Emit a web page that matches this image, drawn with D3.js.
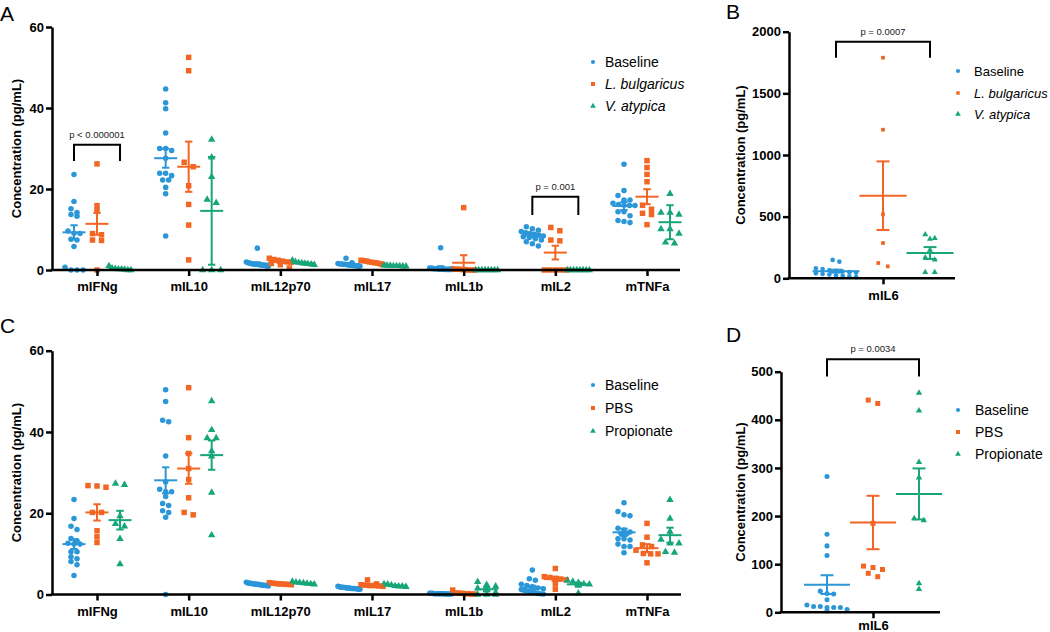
<!DOCTYPE html>
<html>
<head>
<meta charset="utf-8">
<script src="https://cdn.jsdelivr.net/npm/d3@7"></script>
<style>
  body { margin: 0; background: #fff; }
  svg { display: block; font-family: Arial, "Liberation Sans", sans-serif; }
</style>
</head>
<body>
<svg id="chart" width="1050" height="632"></svg>
<script>
// ---- data ----
const cytokines = ["mIFNg", "mIL10", "mIL12p70", "mIL17", "mIL1b", "mIL2", "mTNFa"];
const il6 = ["mIL6"];

const groupsAB = ["Baseline", "L. bulgaricus", "V. atypica"];
const groupsCD = ["Baseline", "PBS", "Propionate"];

// panel A, one list per cytokine
const aBaseline = [
  [23.6, 16.9, 15.1, 14.2, 13.7, 13.3, 9.6, 9.1, 9.0, 7.6, 7.4, 5.8, 0.7, 0, 0, 0],
  [44.7, 41.3, 39.8, 33.8, 30.0, 30.0, 29.5, 27.6, 23.9, 23.9, 23.3, 22.2, 22.2, 20.4, 18.8, 8.4],
  [5.4, 2.0, 1.8, 1.7, 1.6, 1.5, 1.5, 1.4, 1.4, 1.3, 1.3, 1.2, 1.2, 1.1, 1.0, 0.9],
  [2.9, 1.8, 1.6, 1.5, 1.5, 1.4, 1.4, 1.3, 1.3, 1.2, 1.2, 1.1, 1.1, 1.0, 1.0, 0.9],
  [5.5, 0.5, 0.4, 0.4, 0.3, 0.3, 0.3, 0.2, 0.2, 0.2, 0.2, 0.1, 0.1, 0.1, 0.1, 0.1],
  [10.7, 10.2, 9.8, 9.5, 9.2, 9.0, 8.8, 8.6, 8.4, 8.2, 8.0, 7.7, 7.4, 7.0, 6.5, 5.9],
  [26.1, 19.6, 18.4, 17.3, 17.3, 16.5, 16.2, 16.0, 15.9, 15.9, 14.4, 14.4, 13.4, 12.2, 12.0, 11.7]
];
const aBulgaricus = [
  [26.2, 15.9, 14.7, 9.0, 8.7, 7.4, 7.3, 0],
  [52.5, 49.2, 26.6, 25.5, 20.8, 16.2, 11.1, 2.5],
  [2.9, 2.6, 2.4, 2.2, 2.0, 1.9, 1.6, 1.3, 0.5],
  [2.4, 2.3, 2.2, 2.0, 1.9, 1.8, 1.7, 1.5, 1.3],
  [15.4, 0.3, 0.2, 0.2, 0.1, 0.1, 0, 0, 0],
  [10.5, 9.7, 7.4, 7.2, 0, 0, 0, 0, 0],
  [27.0, 25.3, 23.6, 21.8, 16.0, 15.0, 14.0, 13.7, 11.2]
];
const aAtypica = [
  [1.0, 0.4, 0.3, 0.2, 0.2, 0.1, 0, 0],
  [32.2, 27.8, 23.0, 17.4, 16.6, 0, 0, 0],
  [2.4, 2.0, 1.8, 1.7, 1.6, 1.5, 1.4, 1.3],
  [1.2, 1.1, 1.1, 1.0, 1.0, 1.0, 0.9, 0.9],
  [0, 0, 0, 0, 0, 0, 0, 0],
  [0, 0, 0, 0, 0, 0, 0, 0],
  [18.8, 14.2, 14.2, 13.7, 10.1, 10.1, 9.0, 6.8, 6.6]
];
const aBaselineMean = [9.3, 27.6, 1.6, 1.4, 0.6, 8.5, 15.8];
const aBaselineErr = [1.75, 2.35, 0.3, 0.15, 0.35, 0.35, 1.0];
const aBulgaricusMean = [11.4, 25.5, 2.0, 1.9, 1.8, 4.3, 18.1];
const aBulgaricusErr = [2.7, 6.2, 0.25, 0.15, 1.85, 1.7, 1.85];
const aAtypicaMean = [0.3, 14.6, 1.7, 1.0, 0, 0, 11.8];
const aAtypicaErr = [0.15, 13.3, 0.2, 0.05, 0, 0, 4.2];

// panel B
const bBaseline = [[149, 135, 80, 75, 65, 60, 55, 50, 45, 40, 35, 30, 25, 20, 15, 10]];
const bBulgaricus = [[1789, 1205, 519, 286, 124, 97]];
const bAtypica = [[356, 324, 319, 230, 168, 150, 49, 49]];
const bMean = [58, 670, 205];
const bErr = [12, 278, 48];

// panel C
const cBaseline = [
  [23.4, 18.7, 16.8, 16.0, 13.8, 13.2, 12.6, 12.4, 12.4, 10.5, 10.5, 9.3, 8.8, 8.1, 7.3, 4.7],
  [50.4, 47.5, 42.9, 42.5, 34.1, 27.7, 25.9, 25.3, 25.3, 24.1, 22.4, 21.9, 20.6, 20.2, 19.0, 0],
  [3.0, 2.9, 2.8, 2.7, 2.7, 2.6, 2.6, 2.5, 2.5, 2.4, 2.4, 2.3, 2.3, 2.2, 2.2, 2.1],
  [2.0, 1.9, 1.8, 1.8, 1.7, 1.7, 1.6, 1.6, 1.6, 1.5, 1.5, 1.5, 1.4, 1.4, 1.3, 1.3],
  [0.3, 0.3, 0.3, 0.2, 0.2, 0.2, 0.2, 0.2, 0.2, 0.2, 0.2, 0.1, 0.1, 0.1, 0.1, 0.1],
  [6.0, 3.9, 3.5, 2.5, 2.2, 1.9, 1.6, 1.4, 1.2, 1.0, 0.8, 0.6, 0.5, 0.3, 0.2, 0.1],
  [22.6, 20.4, 19.6, 19.4, 16.3, 15.9, 15.4, 15.0, 15.0, 13.7, 13.7, 13.4, 12.4, 11.8, 11.8, 10.3]
];
const cPBS = [
  [26.8, 26.7, 26.4, 20.2, 20.2, 15.7, 14.2, 12.8],
  [50.9, 38.6, 34.7, 31.0, 28.3, 23.8, 20.2, 19.6],
  [2.9, 2.8, 2.7, 2.6, 2.6, 2.5, 2.5, 2.4],
  [3.6, 2.6, 2.4, 2.3, 2.2, 2.2, 2.1, 2.0],
  [1.1, 0.4, 0.3, 0.3, 0.2, 0.2, 0.1, 0.1],
  [6.4, 4.4, 4.2, 4.0, 3.8, 3.6, 2.6, 1.3],
  [17.5, 14.1, 12.2, 11.8, 10.9, 10.1, 10.0, 10.0, 7.8]
];
const cPropionate = [
  [27.3, 27.0, 19.3, 17.4, 16.8, 13.7, 7.5],
  [47.6, 40.5, 38.5, 38.5, 35.3, 34.0, 25.1, 14.6],
  [3.2, 3.0, 2.9, 2.8, 2.7, 2.6, 2.5],
  [2.6, 2.5, 2.3, 2.1, 2.0, 2.0, 1.9],
  [3.1, 2.4, 2.0, 1.5, 1.0, 0.5, 0, 0, 0],
  [3.5, 3.2, 2.9, 2.6, 2.5, 2.2, 0.3],
  [23.3, 18.7, 15.5, 13.5, 12.6, 12.6, 10.5, 10.3]
];
const cBaselineMean = [12.4, 28.1, 2.5, 1.6, 0.2, 1.7, 15.3];
const cBaselineErr = [1.2, 3.2, 0.1, 0.1, 0.02, 0.45, 0.9];
const cPBSMean = [20.2, 31.0, 2.6, 2.4, 0.3, 3.8, 11.4];
const cPBSErr = [2.0, 3.75, 0.1, 0.2, 0.12, 0.5, 1.0];
const cPropionateMean = [18.3, 34.3, 2.8, 2.2, 1.3, 2.5, 14.6];
const cPropionateErr = [2.3, 3.6, 0.1, 0.1, 0.45, 0.4, 1.85];

// panel D
const dBaseline = [[282, 162, 138, 118, 44, 39, 38, 26, 15, 12, 12, 10, 10, 10, 6, 3]];
const dPBS = [[441, 434, 185, 96, 93, 89, 81, 74]];
const dPropionate = [[456, 419, 312, 280, 195, 191, 60, 48]];
const dMean = [57.5, 186.6, 246];
const dErr = [19.5, 55.5, 53];

// significance brackets: category, bracket top / foot (data units), label
const aBrackets = [
  { cat: "mIFNg", top: 30.9, foot: 26.9, label: "p < 0.000001" },
  { cat: "mIL2", top: 18.1, foot: 13.6, label: "p = 0.001" }
];
const bBrackets = [{ cat: "mIL6", top: 1918, foot: 1789, label: "p = 0.0007" }];
const dBrackets = [{ cat: "mIL6", top: 526, foot: 490, label: "p = 0.0034" }];

const colors = ["#2b96d8", "#f26522", "#17a67a"];
const shapes = [d3.symbolCircle, d3.symbolSquare, d3.symbolTriangle];

const svg = d3.select("#chart");
svg.append("rect").attr("width", 1050).attr("height", 632).attr("fill", "#fff");

// rows of near-equal values are spread sideways, GraphPad style
function swarm(vals, y, spacing, maxHalf, tol) {
  const sorted = vals.slice().sort((a, b) => b - a);
  const rows = [];
  sorted.forEach(v => {
    const py = y(v);
    const row = rows[rows.length - 1];
    if (row && Math.abs(py - row.py0) < tol) row.items.push(py);
    else rows.push({ py0: py, items: [py] });
  });
  const out = [];
  rows.forEach(r => {
    const n = r.items.length;
    const s = n > 1 ? Math.min(spacing, 2 * maxHalf / (n - 1)) : 0;
    r.items.forEach((py, i) => out.push({ dx: (i - (n - 1) / 2) * s, py }));
  });
  return out;
}

function drawPanel(p) {
  const g = svg.append("g");
  const y = d3.scaleLinear().domain([0, p.yMax]).range([p.y0, p.yTop]);
  const x = d3.scalePoint().domain(p.cats).range(p.catRange);

  // panel letter
  g.append("text").attr("x", p.letterX).attr("y", p.letterY)
    .attr("font-size", 21).attr("fill", "#000").text(p.letter);

  // y axis title
  g.append("text")
    .attr("transform", `translate(${p.titleX},${(p.y0 + p.yTop) / 2}) rotate(-90)`)
    .attr("text-anchor", "middle").attr("dy", "0.35em")
    .attr("font-size", 13).attr("font-weight", "bold").attr("fill", "#000")
    .text("Concentration (pg/mL)");

  // points
  p.groups.forEach((grp, gi) => {
    p.cats.forEach((c, ci) => {
      const spacing = gi === 0 ? p.spacing[0] : p.spacing[1];
      const pts = swarm(grp.values[ci], y, spacing, p.maxHalf, 4.5);
      const cx = x(c) + p.offsets[gi];
      g.append("g").selectAll("path").data(pts).join("path")
        .attr("d", d3.symbol().type(shapes[gi]).size(p.sizes[gi]))
        .attr("transform", d => `translate(${cx + d.dx},${d.py})`)
        .attr("fill", colors[gi]);
    });
  });

  // mean +/- error bars
  p.groups.forEach((grp, gi) => {
    p.cats.forEach((c, ci) => {
      const cx = x(c) + p.offsets[gi];
      const m = grp.mean[ci], e = grp.err[ci];
      const bar = g.append("g").attr("stroke", colors[gi]).attr("stroke-width", 2).attr("fill", "none");
      bar.append("line").attr("x1", cx - p.meanHalf).attr("x2", cx + p.meanHalf)
        .attr("y1", y(m)).attr("y2", y(m));
      if (e > 0) {
        bar.append("line").attr("x1", cx).attr("x2", cx).attr("y1", y(m - e)).attr("y2", y(m + e));
        [m - e, m + e].forEach(v => {
          bar.append("line").attr("x1", cx - p.capHalf).attr("x2", cx + p.capHalf)
            .attr("y1", y(v)).attr("y2", y(v));
        });
      }
    });
  });

  // axes
  const yAxis = g.append("g").attr("transform", `translate(${p.axisX},0)`)
    .call(d3.axisLeft(y).tickValues(p.yTicks).tickFormat(d3.format("d"))
      .tickSize(6).tickSizeOuter(0).tickPadding(2));
  const xAxis = g.append("g").attr("transform", `translate(0,${p.y0})`)
    .call(d3.axisBottom(x).tickSize(6).tickPadding(p.catPad));
  xAxis.select(".domain").remove();
  g.append("line").attr("x1", p.axisX - 1.25).attr("x2", p.axisEnd)
    .attr("y1", p.y0).attr("y2", p.y0).attr("stroke", "#000").attr("stroke-width", 2.5);
  [yAxis, xAxis].forEach(a => {
    a.attr("font-family", null).attr("font-size", 13).attr("font-weight", "bold");
    a.selectAll("path, line").attr("stroke", "#000").attr("stroke-width", 2.5);
    a.selectAll("text").attr("fill", "#000");
  });

  // significance brackets (from first to third group)
  p.brackets.forEach(b => {
    const x1 = x(b.cat) + p.offsets[0], x2 = x(b.cat) + p.offsets[2];
    g.append("path")
      .attr("d", `M${x1},${y(b.foot)}V${y(b.top)}H${x2}V${y(b.foot)}`)
      .attr("fill", "none").attr("stroke", "#000").attr("stroke-width", 2);
    g.append("text").attr("x", (x1 + x2) / 2).attr("y", y(b.top) - 7)
      .attr("text-anchor", "middle").attr("font-size", 9.5).attr("fill", "#222")
      .text(b.label);
  });

  // legend
  const lg = g.append("g").selectAll("g").data(p.groups).join("g")
    .attr("transform", (d, i) => `translate(${p.legendX},${p.legendY[i]})`);
  lg.append("path")
    .attr("d", (d, i) => d3.symbol().type(shapes[i]).size(p.legendSizes[i])())
    .attr("fill", (d, i) => colors[i]);
  lg.append("text").attr("x", p.legendTextDx).attr("dy", "0.35em")
    .attr("font-size", p.legendFont).attr("fill", "#000")
    .attr("font-style", d => d.italic ? "italic" : "normal")
    .text(d => d.name);
}

const panels = [
  {
    letter: "A", letterX: 0, letterY: 21, titleX: 16,
    cats: cytokines, catRange: [97, 647], axisX: 52, axisEnd: 680, catPad: 6,
    y0: 270, yTop: 27, yMax: 60, yTicks: [0, 20, 40, 60],
    offsets: [-23, 0, 23], meanHalf: 11.5, capHalf: 3.7,
    spacing: [6, 9], maxHalf: 11, sizes: [24, 30, 24],
    groups: [
      { name: groupsAB[0], values: aBaseline, mean: aBaselineMean, err: aBaselineErr },
      { name: groupsAB[1], italic: true, values: aBulgaricus, mean: aBulgaricusMean, err: aBulgaricusErr },
      { name: groupsAB[2], italic: true, values: aAtypica, mean: aAtypicaMean, err: aAtypicaErr }
    ],
    brackets: aBrackets,
    legendX: 593, legendY: [62, 84, 106], legendTextDx: 12, legendSizes: [14, 16, 14], legendFont: 14
  },
  {
    letter: "B", letterX: 726, letterY: 19, titleX: 740,
    cats: il6, catRange: [883, 883], axisX: 789, axisEnd: 955, catPad: 6,
    y0: 278.3, yTop: 31.7, yMax: 2000, yTicks: [0, 500, 1000, 1500, 2000],
    offsets: [-47, 0, 47], meanHalf: 23.5, capHalf: 6.5,
    spacing: [6.7, 9.5], maxHalf: 22, sizes: [17, 14, 16],
    groups: [
      { name: groupsAB[0], values: bBaseline, mean: [bMean[0]], err: [bErr[0]] },
      { name: groupsAB[1], italic: true, values: bBulgaricus, mean: [bMean[1]], err: [bErr[1]] },
      { name: groupsAB[2], italic: true, values: bAtypica, mean: [bMean[2]], err: [bErr[2]] }
    ],
    brackets: bBrackets,
    legendX: 958, legendY: [71, 93, 114], legendTextDx: 16, legendSizes: [14, 12, 14], legendFont: 13
  },
  {
    letter: "C", letterX: 0, letterY: 333, titleX: 16,
    cats: cytokines, catRange: [97, 647], axisX: 52, axisEnd: 681, catPad: 6,
    y0: 594.5, yTop: 350.7, yMax: 60, yTicks: [0, 20, 40, 60],
    offsets: [-23, 0, 23], meanHalf: 11.5, capHalf: 3.7,
    spacing: [6, 9], maxHalf: 11, sizes: [24, 30, 24],
    groups: [
      { name: groupsCD[0], values: cBaseline, mean: cBaselineMean, err: cBaselineErr },
      { name: groupsCD[1], values: cPBS, mean: cPBSMean, err: cPBSErr },
      { name: groupsCD[2], values: cPropionate, mean: cPropionateMean, err: cPropionateErr }
    ],
    brackets: [],
    legendX: 593, legendY: [385, 408, 431], legendTextDx: 12, legendSizes: [14, 16, 14], legendFont: 14
  },
  {
    letter: "D", letterX: 726, letterY: 342, titleX: 740,
    cats: il6, catRange: [873, 873], axisX: 781, axisEnd: 940, catPad: 2,
    y0: 612.3, yTop: 371.7, yMax: 500, yTicks: [0, 100, 200, 300, 400, 500],
    offsets: [-46, 0, 46], meanHalf: 23, capHalf: 6.5,
    spacing: [6.7, 9.5], maxHalf: 21, sizes: [20, 25, 18],
    groups: [
      { name: groupsCD[0], values: dBaseline, mean: [dMean[0]], err: [dErr[0]] },
      { name: groupsCD[1], values: dPBS, mean: [dMean[1]], err: [dErr[1]] },
      { name: groupsCD[2], values: dPropionate, mean: [dMean[2]], err: [dErr[2]] }
    ],
    brackets: dBrackets,
    legendX: 958, legendY: [410, 432, 454], legendTextDx: 17, legendSizes: [14, 16, 14], legendFont: 14
  }
];

panels.forEach(drawPanel);
</script>
</body>
</html>
